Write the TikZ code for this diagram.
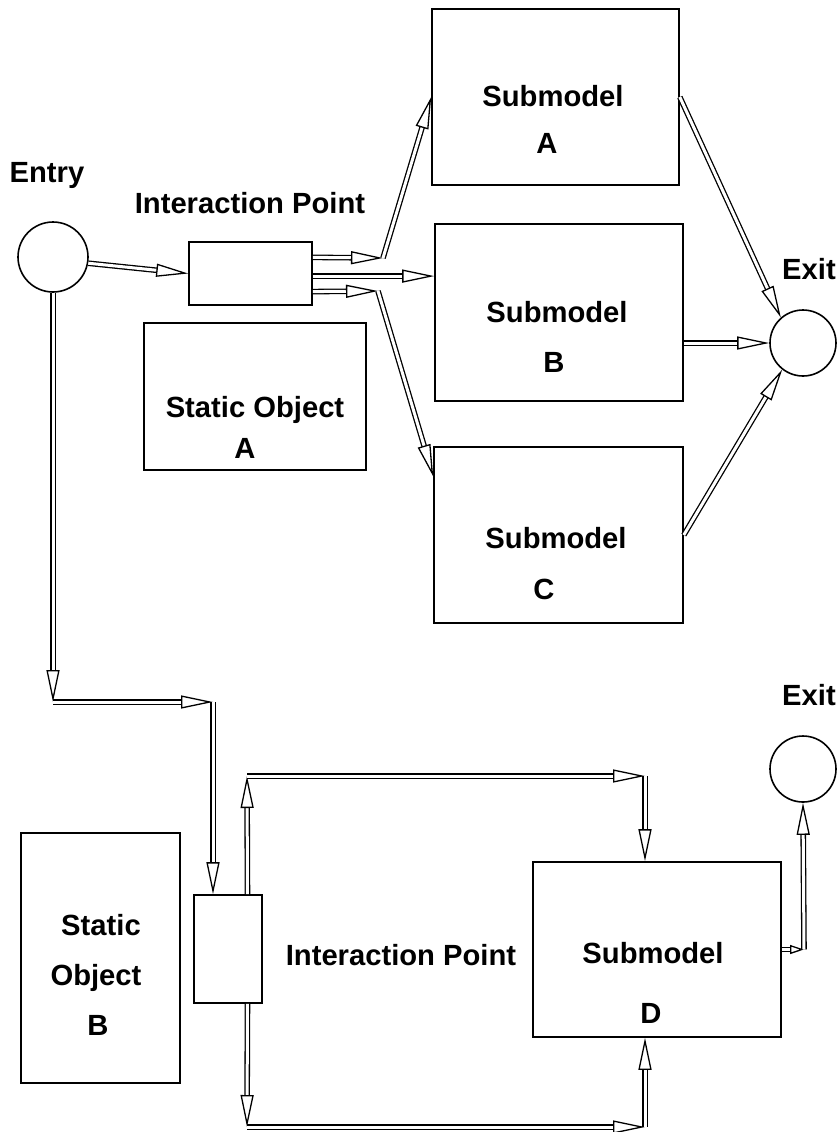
\documentclass[tikz,border=0pt]{standalone}
\usepackage{fontspec}
\setmainfont{Liberation Sans}
\usetikzlibrary{arrows.meta,fit,calc}
\begin{document}
\begin{tikzpicture}[x=0.5pt,y=-0.5pt,
  box/.style={draw,line width=0.8pt,inner sep=0pt,rectangle},
  port/.style={draw,line width=0.8pt,circle,inner sep=0pt,minimum size=#1},
  txt/.style={anchor=base,inner sep=0pt,font=\bfseries\fontsize{14.6}{18}\selectfont},
  flow/.style={line width=0.65pt,double=white,double distance=1.5pt,
    -{Triangle[open,length=16pt,width=6.5pt]}},
  smallflow/.style={line width=0.65pt,double=white,double distance=1.5pt,
    -{Triangle[open,length=7pt,width=4.5pt]}}
]
\useasboundingbox (0,0) rectangle (837,1132);
% ports
\node[port=35pt] (entry) at (53,257) {};
\node[port=33pt] (exit1) at (803,343) {};
\node[port=33pt] (exit2) at (803,769) {};
% boxes
\node[box,fit={(189,242) (312,305)}] (ip1) {};
\node[box,fit={(144,323) (366,470)}] (sa) {};
\node[box,fit={(432,9) (679,185)}] (smA) {};
\node[box,fit={(435,224) (683,401)}] (smB) {};
\node[box,fit={(434,447) (683,623)}] (smC) {};
\node[box,fit={(194,895) (262,1003)}] (ip2) {};
\node[box,fit={(21,833) (180,1083)}] (sb) {};
\node[box,fit={(533,862) (781,1037)}] (smD) {};
% texts
\node[txt] (tEntry) at (47,182) {Entry};
\node[txt] (tIp1) at (250,213) {Interaction Point};
\node[txt] (tExit1) at (809,279) {Exit};
\node[txt] (tExit2) at (809,705) {Exit};
\node[txt] (tA1) at (553,106) {Submodel};
\node[txt] (tA2) at (547,153) {A};
\node[txt] (tB1) at (557,322) {Submodel};
\node[txt] (tB2) at (554,372) {B};
\node[txt] (tC1) at (556,548) {Submodel};
\node[txt] (tC2) at (544,599) {C};
\node[txt] (tSa1) at (255,417) {Static Object};
\node[txt] (tSa2) at (245,458) {A};
\node[txt] (tSb1) at (101,935) {Static};
\node[txt] (tSb2) at (96,985) {Object};
\node[txt] (tSb3) at (98,1035) {B};
\node[txt] (tIp2) at (401,965) {Interaction Point};
\node[txt] (tD1) at (653,963) {Submodel};
\node[txt] (tD2) at (651,1023) {D};
% helper coordinates
\coordinate (u0) at ($(ip1.north east)!0.25!(ip1.south east)$);
\coordinate (m0) at ($(ip1.north east)!0.54!(ip1.south east)$);
\coordinate (l0) at ($(ip1.north east)!0.78!(ip1.south east)$);
\coordinate (u1) at (383,258);
\coordinate (l1) at (378,291);
\coordinate (cIn) at ($(smC.north west)!0.17!(smC.south west)$);
\coordinate (c1) at (53,702);
\coordinate (c2) at (213,702);
\coordinate (p1) at ($(ip2.north west)!0.78!(ip2.north east)$);
\coordinate (p2) at ($(ip2.south west)!0.78!(ip2.south east)$);
\coordinate (c3) at (247,776);
\coordinate (c4) at (645,776);
\coordinate (c5) at (247,1127);
\coordinate (c6) at (645,1127);
\coordinate (c7) at (804,949.5);
% top connectors
\draw[flow] (entry.-10) -- (ip1.west);
\draw[flow] (u0) -- (u1);
\draw[flow] (u1) -- (smA.west);
\draw[flow] (m0) -- (m0 -| smB.west);
\draw[flow] (l0) -- (l1);
\draw[flow] (l1) -- (cIn);
\draw[flow] (smA.east) -- (exit1.131);
\draw[flow] (exit1.west -| smB.east) -- (exit1.west);
\draw[flow] (smC.east) -- (exit1.232);
% entry to bottom part
\draw[flow] (entry.south) -- (c1);
\draw[flow] (c1) -- (c2);
\draw[flow] (c2) -- (c2 |- ip2.north);
% bottom part
\draw[flow] (p1) -- (c3);
\draw[flow] (c3) -- (c4);
\draw[flow] (c4) -- (c4 |- smD.north);
\draw[flow] (p2) -- (c5);
\draw[flow] (c5) -- (c6);
\draw[flow] (c6) -- (c6 |- smD.south);
\draw[smallflow] (smD.east) -- (c7);
\draw[flow] (c7) -- (exit2.south);
\end{tikzpicture}
\end{document}
